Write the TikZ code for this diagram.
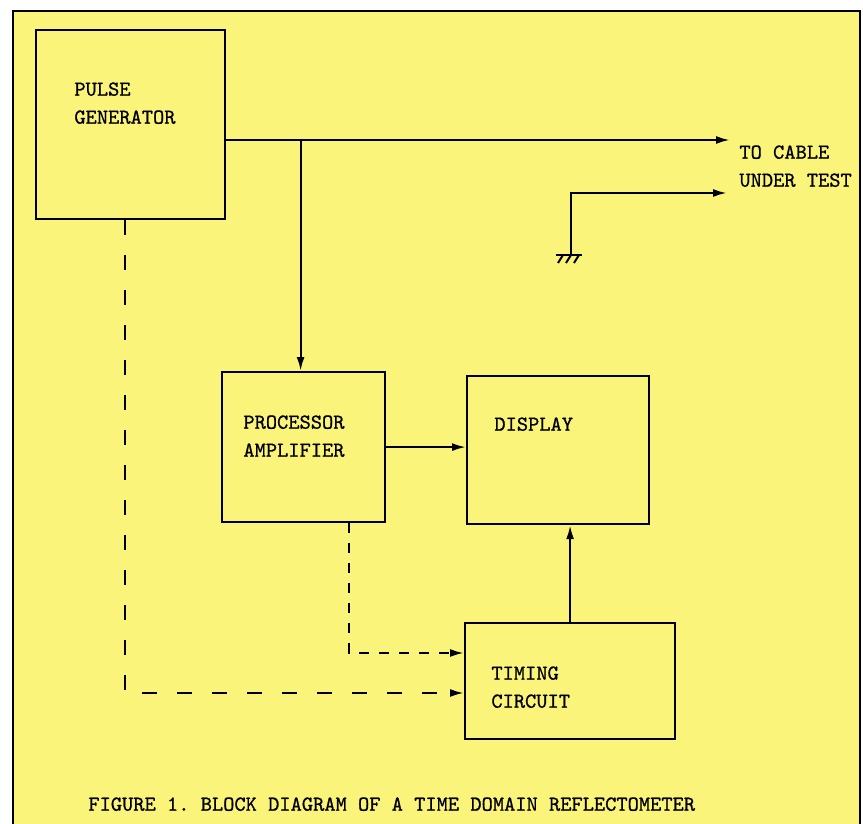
\documentclass[tikz,border=0pt]{standalone}
\usepackage{fontspec}
\setmonofont{Latin Modern Mono}[FakeBold=0.8]
\usepackage{tikz}
\usetikzlibrary{arrows.meta, positioning}
\definecolor{paper}{HTML}{FBF47A}

\begin{document}
\begin{tikzpicture}[
    x=0.5pt, y=-0.5pt,
    every node/.style={font=\ttfamily\fontsize{10.7}{14}\selectfont, inner sep=0pt},
    block/.style={rectangle, draw, line width=1.1pt, anchor=north west},
    txt/.style={align=left, anchor=north west},
    arrow/.style={-{Latex[length=7pt,width=4pt]}, line width=1.1pt},
    longdash/.style={arrow, dash pattern=on 7.5pt off 10pt},
    shortdash/.style={arrow, dash pattern=on 5pt off 5pt}
]
\useasboundingbox (0,0) rectangle (863,824);

% page and frame
\fill[white] (0,0) rectangle (863,824);
\fill[paper] (13,11) rectangle (860,824);
\draw[line width=1.1pt] (13,824) -- (13,11) -- (860,11) -- (860,824);

% blocks
\node[block, minimum width=94.5pt, minimum height=94.5pt] (pulsegen) at (35,29) {};
\node[block, minimum width=81.5pt, minimum height=75pt] (procamp) at (221,371) {};
\node[block, minimum width=91pt, minimum height=74pt] (display) at (466,375) {};
\node[block, minimum width=105pt, minimum height=58pt] (timing) at (464,622) {};

\node[txt, below right=26.5pt and 19.5pt of pulsegen.north west] {PULSE\\GENERATOR};
\node[txt, below right=22pt and 11pt of procamp.north west] {PROCESSOR\\AMPLIFIER};
\node[txt, below right=21pt and 14pt of display.north west] {DISPLAY};
\node[txt, below right=22pt and 13.5pt of timing.north west] {TIMING\\CIRCUIT};

% cable under test
\coordinate (cable1) at (730,140);
\coordinate (cable2) at (727,193);
\coordinate (gnd) at (571,255);
\node[txt] (cable) at (739,145) {TO CABLE\\UNDER TEST};

\draw[arrow] (pulsegen.east |- cable1) -- (cable1);
\draw[arrow] (gnd) |- (cable2);
\draw[line width=1.1pt] (556,255) -- (582,255);
\foreach \x in {563,571,579}
    \draw[line width=1pt] (\x,255) -- ++(-5,8);

% signal path
\draw[arrow] ([xshift=-1.5pt]procamp.north |- cable1) -- ([xshift=-1.5pt]procamp.north);
\draw[arrow] (procamp.east) -- (procamp.east -| display.west);
\draw[arrow] (timing.north) -- (timing.north |- display.south);

% timing links
\coordinate (tap1) at (349,653);
\coordinate (tap2) at (125,693);
\draw[shortdash] (procamp.south -| tap1) -- (tap1) -- (tap1 -| timing.west);
\draw[longdash] (pulsegen.south -| tap2) -- (tap2) -- (tap2 -| timing.west);

% caption
\node[txt] (caption) at (88,797) {FIGURE 1. BLOCK DIAGRAM OF A TIME DOMAIN REFLECTOMETER};

\end{tikzpicture}
\end{document}
